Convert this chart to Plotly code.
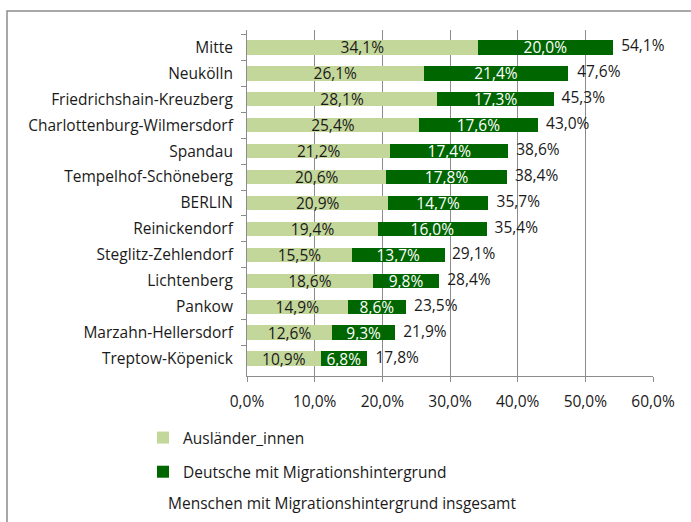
import plotly.graph_objects as go

categories = ["Mitte", "Neukölln", "Friedrichshain-Kreuzberg", "Charlottenburg-Wilmersdorf",
              "Spandau", "Tempelhof-Schöneberg", "BERLIN", "Reinickendorf",
              "Steglitz-Zehlendorf", "Lichtenberg", "Pankow", "Marzahn-Hellersdorf",
              "Treptow-Köpenick"]
auslaender = [34.1, 26.1, 28.1, 25.4, 21.2, 20.6, 20.9, 19.4, 15.5, 18.6, 14.9, 12.6, 10.9]
deutsche_mh = [20.0, 21.4, 17.3, 17.6, 17.4, 17.8, 14.7, 16.0, 13.7, 9.8, 8.6, 9.3, 6.8]
insgesamt = [54.1, 47.6, 45.3, 43.0, 38.6, 38.4, 35.7, 35.4, 29.1, 28.4, 23.5, 21.9, 17.8]
tick_vals = [0, 10, 20, 30, 40, 50, 60]
tick_text = ["0,0%", "10,0%", "20,0%", "30,0%", "40,0%", "50,0%", "60,0%"]

def fmt(v):
    return f"{v:.1f}%".replace(".", ",")

FONT = "Open Sans"
FS = 15.5
TXT = "#1a1a1a"
LIGHT = "#c4d79b"
DARK = "#006600"

fig = go.Figure()
fig.add_trace(go.Bar(
    y=categories, x=auslaender, orientation="h", name="Ausländer_innen",
    marker=dict(color=LIGHT, line=dict(width=0)),
    text=[fmt(v) for v in auslaender], textposition="inside",
    insidetextanchor="middle", textangle=0, constraintext="none",
    textfont=dict(color=TXT, size=FS, family=FONT),
    legendgroup="a", hoverinfo="skip"))
fig.add_trace(go.Bar(
    y=categories, x=deutsche_mh, orientation="h", name="Deutsche mit Migrationshintergrund",
    marker=dict(color=DARK, line=dict(width=0)),
    text=[fmt(v) for v in deutsche_mh], textposition="inside",
    insidetextanchor="middle", textangle=0, constraintext="none",
    textfont=dict(color="white", size=FS, family=FONT),
    legendgroup="b", hoverinfo="skip"))
fig.add_trace(go.Scatter(
    y=categories, x=insgesamt, mode="text",
    text=["  " + fmt(v) for v in insgesamt], textposition="middle right",
    textfont=dict(color=TXT, size=FS, family=FONT),
    showlegend=False, hoverinfo="skip", cliponaxis=False))

W, H = 691, 522
L, R, T, B = 247, 38, 30, 146
pw, ph = W - L - R, H - T - B

def px2x(p):
    return (p - L) / pw

def px2y(p):
    return (H - B - p) / ph

fig.update_layout(
    width=W, height=H, barmode="stack", bargap=0.44,
    margin=dict(l=L, r=R, t=T, b=B, autoexpand=False),
    paper_bgcolor="white", plot_bgcolor="white",
    font=dict(family=FONT, size=FS, color=TXT),
    xaxis=dict(range=[0, 60], tickvals=tick_vals, ticktext=tick_text,
               showgrid=True, gridcolor="#8c8c8c", gridwidth=1,
               showline=True, linecolor="#8c8c8c", ticks="outside", ticklen=5,
               tickcolor="#8c8c8c", zeroline=False, fixedrange=True,
               ticklabelstandoff=6,
               tickfont=dict(size=FS, family=FONT, color=TXT)),
    yaxis=dict(autorange="reversed", showline=True, linecolor="#8c8c8c",
               ticks="outside", ticklen=5, tickcolor="#8c8c8c", tickson="boundaries",
               showgrid=False, fixedrange=True, ticklabelstandoff=10,
               tickfont=dict(size=FS, family=FONT, color=TXT)),
    legend=dict(x=px2x(143), y=px2y(421), xanchor="left", yanchor="top",
                orientation="v", tracegroupgap=11, font=dict(size=FS, family=FONT, color=TXT),
                itemsizing="constant", bgcolor="rgba(0,0,0,0)"),
    showlegend=True,
    shapes=[dict(type="rect", xref="paper", yref="paper",
                 x0=px2x(7), x1=px2x(720), y0=px2y(560), y1=px2y(11),
                 line=dict(color="#8c8c8c", width=1.5), fillcolor="rgba(0,0,0,0)", layer="below")],
    annotations=[dict(text="Menschen mit Migrationshintergrund insgesamt",
                      xref="paper", yref="paper", x=px2x(166), y=px2y(503),
                      xanchor="left", yanchor="middle", showarrow=False,
                      font=dict(size=FS, family=FONT, color=TXT))],
)

fig.write_html("out.html", config={"displayModeBar": False},
               post_script="document.body.style.margin='0';document.body.style.overflow='hidden';")
